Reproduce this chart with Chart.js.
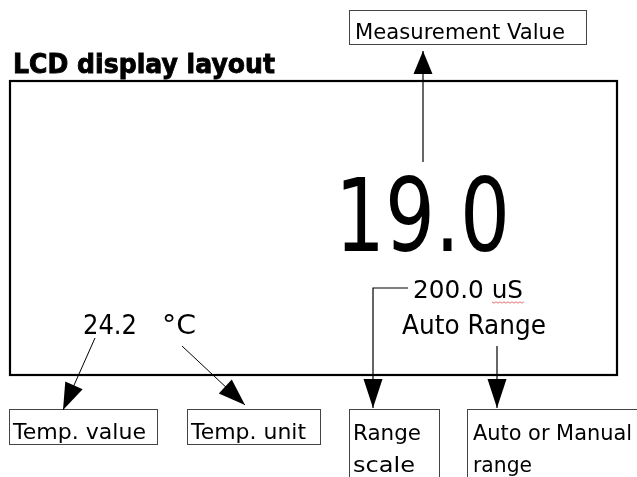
<!DOCTYPE html>
<html><head><meta charset="utf-8">
<script src="https://cdn.jsdelivr.net/npm/chart.js@4.4.1/dist/chart.umd.min.js"></script>
<style>html,body{margin:0;padding:0;background:#fff}#wrap{width:637px;height:477px}</style>
</head><body><div id="wrap"><canvas id="c" width="637" height="477"></canvas></div>
<script>
// ---- content (texts shown on the LCD diagram) ----
const titleText = "LCD display layout";
const lcdReadings = ["19.0", "200.0 uS", "Auto Range", "24.2", "\u00B0C"];
const calloutLabels = [["Measurement Value"], ["Temp. value"], ["Temp. unit"], ["Range", "scale"], ["Auto or Manual", "range"]];

// ---- layout (positions in a 637x477 coordinate space, mapped through chart scales) ----
const readingLayout = [
  {x:335, y:251, size:102, w:175},
  {x:413, y:298, size:25, w:110},
  {x:402, y:334, size:26, w:144},
  {x:83,  y:334, size:27, w:54},
  {x:162, y:334, size:27, w:34}
];
const boxLayout = [
  {x0:349, y0:10, x1:586, y1:44, tx:355, ty:[39], size:22, w:[210]},
  {x0:9, y0:409, x1:157, y1:444, tx:13, ty:[439], size:22, w:[133]},
  {x0:187, y0:409, x1:320, y1:444, tx:191, ty:[439], size:22, w:[115]},
  {x0:349, y0:409, x1:439, y1:490, tx:353, ty:[440, 472], size:22, w:[68, 62]},
  {x0:467, y0:409, x1:650, y1:490, tx:473, ty:[440, 472], size:22, w:[159, 59]}
];
const arrowLayout = [
  {pts:[[423,162],[423,51]], lw:1.2, len:23},
  {pts:[[95,338],[63,410]], lw:1, len:27},
  {pts:[[182,346],[245,405]], lw:1, len:27},
  {pts:[[408,288],[373,288],[373,408]], lw:1.2, len:29},
  {pts:[[497,346],[497,408]], lw:1.2, len:29}
];
const lcdRect = {x0:10, y0:81, x1:617, y1:375};

const diagramPlugin = {
  id: 'diagram',
  afterDraw(chart) {
    const ctx = chart.ctx, sx = chart.scales.x, sy = chart.scales.y;
    const X = v => sx.getPixelForValue(v), Y = v => sy.getPixelForValue(v);
    const fit = (txt, x, y, size, w, bold) => {
      ctx.save();
      ctx.font = (bold ? 'bold ' : '') + size + 'px "DejaVu Sans"';
      ctx.fillStyle = '#000';
      ctx.textBaseline = 'alphabetic';
      const m = ctx.measureText(txt).width;
      ctx.translate(X(x), Y(y));
      ctx.scale(w / m, 1);
      ctx.fillText(txt, 0, 0);
      if (bold) { ctx.strokeStyle = '#000'; ctx.lineWidth = 0.9; ctx.strokeText(txt, 0, 0); }
      ctx.restore();
    };
    // title
    fit(titleText, 13, 73, 27, 262, true);
    // LCD rectangle
    ctx.save();
    ctx.strokeStyle = '#000'; ctx.lineWidth = 2.2;
    ctx.strokeRect(X(lcdRect.x0), Y(lcdRect.y0), X(lcdRect.x1) - X(lcdRect.x0), Y(lcdRect.y1) - Y(lcdRect.y0));
    ctx.restore();
    // readings
    lcdReadings.forEach((t, i) => { const L = readingLayout[i]; fit(t, L.x, L.y, L.size, L.w, false); });
    // spell-check squiggle under "uS"
    ctx.save(); ctx.strokeStyle = '#e05050'; ctx.lineWidth = 0.8; ctx.beginPath();
    for (let k = 0; k <= 16; k++) { const px = 492 + k * 2, py = 302 + (k % 2 ? 1.2 : -0.2); k ? ctx.lineTo(X(px), Y(py)) : ctx.moveTo(X(px), Y(py)); }
    ctx.stroke(); ctx.restore();
    // callout boxes
    calloutLabels.forEach((lines, i) => {
      const B = boxLayout[i];
      ctx.save(); ctx.strokeStyle = '#444'; ctx.lineWidth = 1;
      ctx.strokeRect(X(B.x0) + 0.5, Y(B.y0) + 0.5, X(B.x1) - X(B.x0), Y(B.y1) - Y(B.y0));
      ctx.restore();
      lines.forEach((t, j) => fit(t, B.tx, B.ty[j], B.size, B.w[j], false));
    });
    // arrows
    arrowLayout.forEach(A => {
      const p = A.pts.map(q => [X(q[0]), Y(q[1])]);
      const n = p.length, tip = p[n - 1], prev = p[n - 2];
      const ang = Math.atan2(tip[1] - prev[1], tip[0] - prev[0]);
      const len = A.len, hw = 9.5;
      ctx.save(); ctx.strokeStyle = '#000'; ctx.lineWidth = A.lw;
      ctx.beginPath(); ctx.moveTo(p[0][0], p[0][1]);
      for (let k = 1; k < n; k++) ctx.lineTo(p[k][0], p[k][1]);
      ctx.stroke();
      const bx = tip[0] - len * Math.cos(ang), by = tip[1] - len * Math.sin(ang);
      ctx.fillStyle = '#000'; ctx.beginPath();
      ctx.moveTo(tip[0], tip[1]);
      ctx.lineTo(bx + hw * Math.sin(ang), by - hw * Math.cos(ang));
      ctx.lineTo(bx - hw * Math.sin(ang), by + hw * Math.cos(ang));
      ctx.closePath(); ctx.fill();
      ctx.restore();
    });
  }
};

new Chart(document.getElementById('c'), {
  type: 'scatter',
  data: { datasets: [{ data: [], pointRadius: 0 }] },
  options: {
    responsive: false, animation: false, devicePixelRatio: 1,
    layout: { padding: 0 },
    plugins: { legend: { display: false }, tooltip: { enabled: false } },
    scales: {
      x: { type: 'linear', min: 0, max: 637, display: false },
      y: { type: 'linear', min: 0, max: 477, reverse: true, display: false }
    }
  },
  plugins: [diagramPlugin]
});
</script></body></html>
